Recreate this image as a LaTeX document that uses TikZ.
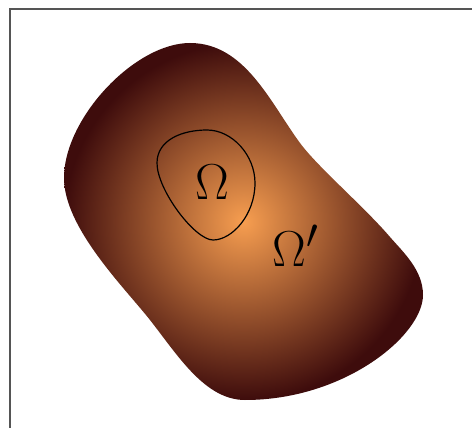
\documentclass[tikz,border=0pt]{standalone}
\usepackage{tikz}
\usetikzlibrary{positioning}
\definecolor{blobin}{RGB}{247,158,80}
\definecolor{blobout}{RGB}{62,12,12}
\definecolor{framegray}{RGB}{85,85,85}
\tikzset{
  region/.style={inner color=blobin, outer color=blobout},
  subregion/.style={draw=black, line width=1.2pt},
  setlabel/.style={font=\Huge, scale=2.03, inner sep=0pt}
}
\begin{document}
\begin{tikzpicture}[x=1pt, y=-1pt]
\useasboundingbox (0,0) rectangle (472,428);

%% frame
\draw[framegray, line width=2pt] (472,9.5) -- (9.5,9.5) -- (9.5,428);

%% outer region
\shade[region] (64,178) .. controls (64,118) and (135,43) .. (190,43)
  .. controls (245,43) and (270.5,103) .. (300,143)
  .. controls (317.7,167) and (364,206.6) .. (390,237)
  .. controls (403,252) and (423,270) .. (423,295)
  .. controls (423,335) and (345,400) .. (245,400)
  .. controls (205,400) and (177.9,355.5) .. (150,320)
  .. controls (125.2,288.4) and (64,228) .. (64,178) -- cycle;

%% inner region
\draw[subregion] (207,130) .. controls (232,130) and (255,155) .. (255,183)
  .. controls (255,215) and (232,240) .. (213,240)
  .. controls (195,240) and (157,190) .. (157,163)
  .. controls (157,140) and (182,130) .. (207,130) -- cycle;

%% labels
\node[setlabel] (omega) at (212,182) {$\Omega$};
\node[setlabel] (omegap) at (296,246) {$\Omega'$};

\end{tikzpicture}
\end{document}
